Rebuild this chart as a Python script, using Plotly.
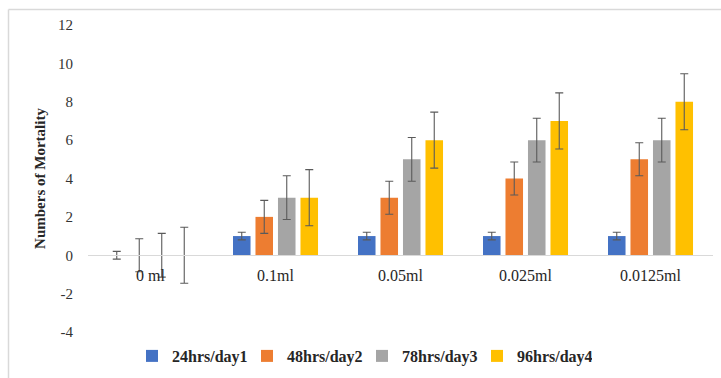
import plotly.graph_objects as go

# Concentrations on the category axis
doses = ["0 ml", "0.1ml", "0.05ml", "0.025ml", "0.0125ml"]

# Mortality counts per exposure period
day1 = [0, 1, 1, 1, 1]
day2 = [0, 2, 3, 4, 5]
day3 = [0, 3, 5, 6, 6]
day4 = [0, 3, 6, 7, 8]

# Standard error of each series (same for every dose)
err_day1 = 0.2
err_day2 = 0.86
err_day3 = 1.14
err_day4 = 1.46

series_names = ["24hrs/day1", "48hrs/day2", "78hrs/day3", "96hrs/day4"]
series_values = [day1, day2, day3, day4]
series_errors = [err_day1, err_day2, err_day3, err_day4]
colors = ["#4472C4", "#ED7D31", "#A5A5A5", "#FFC000"]

# Value axis ticks (plain hyphen for negatives)
y_ticks = [-4, -2, 0, 2, 4, 6, 8, 10, 12]
y_tick_text = ["-4", "-2", "0", "2", "4", "6", "8", "10", "12"]

W, H = 721, 378
ML, MR, MT, MB = 88, 8, 25, 46
PW, PH = W - ML - MR, H - MT - MB

serif = "Liberation Serif"

fig = go.Figure()
for name, vals, err, col in zip(series_names, series_values, series_errors, colors):
    fig.add_trace(go.Bar(
        x=doses, y=vals, name=name,
        marker=dict(color=col, line=dict(width=0)),
        error_y=dict(type="constant", value=err, color="#5a5a5a",
                     thickness=1.1, width=4),
    ))

def px_x(px):
    return (px - ML) / PW

def px_y(py):
    return (H - MB - py) / PH

# Light outer frame (top and left edges)
frame = dict(type="line", xref="paper", yref="paper",
             line=dict(color="#D9D9D9", width=1.5))
fig.add_shape(**frame, x0=px_x(8.5), x1=px_x(W + 5), y0=px_y(9.5), y1=px_y(9.5))
fig.add_shape(**frame, x0=px_x(8.5), x1=px_x(8.5), y0=px_y(9.5), y1=px_y(H + 5))

fig.update_layout(
    width=W, height=H,
    margin=dict(l=ML, r=MR, t=MT, b=MB, autoexpand=False),
    paper_bgcolor="white", plot_bgcolor="white",
    barmode="group", bargap=0.28, bargroupgap=0.22,
    font=dict(family=serif, size=15, color="#404040"),
    showlegend=True,
    legend=dict(
        orientation="h", x=px_x(362), xanchor="center",
        y=px_y(356), yanchor="middle",
        font=dict(family=serif, size=16, color="#262626", weight="bold"),
        entrywidth=70, entrywidthmode="pixels",
        bgcolor="rgba(0,0,0,0)",
    ),
    xaxis=dict(
        anchor="free", position=0.25,
        showline=True, linecolor="#D9D9D9", linewidth=1,
        showgrid=False, zeroline=False, ticks="", ticklabelstandoff=6,
        tickfont=dict(family=serif, size=16, color="#262626"),
    ),
    yaxis=dict(
        range=[-4, 12], tickvals=y_ticks, ticktext=y_tick_text,
        showgrid=False, zeroline=False, showline=False,
        ticks="", ticklabelstandoff=14,
        tickfont=dict(family=serif, size=15, color="#333333"),
        title=dict(text="<b>Numbers of Mortality</b>", standoff=8,
                   font=dict(family=serif, size=15, color="#262626")),
    ),
)

fig.write_html("out.html")
